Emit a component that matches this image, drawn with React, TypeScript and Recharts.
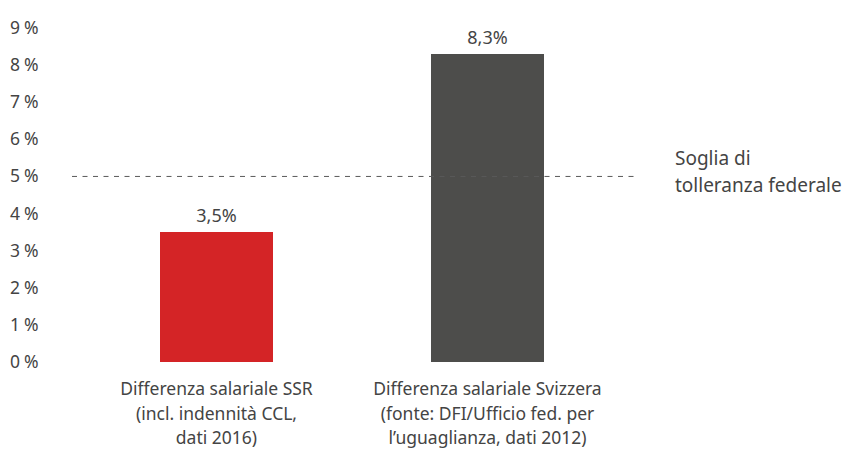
import React from "react";
import { BarChart, Bar, XAxis, YAxis, ReferenceLine, LabelList, Cell } from "recharts";

const categories = [
  ["Differenza salariale SSR", "(incl. indennità CCL,", "dati 2016)"],
  ["Differenza salariale Svizzera", "(fonte: DFI/Ufficio fed. per", "l’uguaglianza, dati 2012)"],
];
const values = [3.5, 8.3];
const valueLabels = ["3,5%", "8,3%"];
const barColors = ["#d42426", "#4d4d4b"];
const yTicks = [0, 1, 2, 3, 4, 5, 6, 7, 8, 9];
const threshold = 5;
const thresholdLabel = ["Soglia di", "tolleranza federale"];

const data = categories.map((c, i) => ({
  name: String(i),
  value: values[i],
  label: valueLabels[i],
}));

const FONT = "'Noto Sans', 'Open Sans', sans-serif";
const TEXT = "#444";

const YTick = (props: any) => {
  const { y, payload } = props;
  return (
    <text x={10} y={y} dy={6} textAnchor="start" fontFamily={FONT} fontSize={17.5} fill={TEXT}>
      {payload.value}
      <tspan dx={4}>%</tspan>
    </text>
  );
};

const XTick = (props: any) => {
  const { x, y, payload } = props;
  const lines = categories[Number(payload.value)];
  return (
    <text x={x} y={y} textAnchor="middle" fontFamily={FONT} fontSize={17.5} fill={TEXT}>
      {lines.map((l, i) => (
        <tspan key={i} x={x} dy={i === 0 ? 25 : 24.5}>
          {l}
        </tspan>
      ))}
    </text>
  );
};

const ThresholdLabel = (props: any) => {
  const { viewBox } = props;
  const x = viewBox.x + viewBox.width + 37;
  const y = viewBox.y;
  return (
    <text x={x} y={y} fontFamily={FONT} fontSize={19} fill={TEXT} textAnchor="start">
      <tspan x={x} dy={-11}>{thresholdLabel[0]}</tspan>
      <tspan x={x} dy={27}>{thresholdLabel[1]}</tspan>
    </text>
  );
};

export default function App() {
  return (
    <div style={{ position: "absolute", left: 0, top: 0, background: "#fff" }}>
      <BarChart
        width={850}
        height={452}
        data={data}
        margin={{ top: 28, right: 212, bottom: 0, left: 0 }}
        barCategoryGap={79}
      >
        <YAxis
          type="number"
          domain={[0, 9]}
          ticks={yTicks}
          interval={0}
          width={72}
          axisLine={false}
          tickLine={false}
          tick={<YTick />}
        />
        <XAxis
          dataKey="name"
          height={90}
          axisLine={false}
          tickLine={false}
          interval={0}
          padding={{ left: 9, right: 15 }}
          tick={<XTick />}
        />
        <ReferenceLine
          y={threshold}
          stroke="#5a5a5a"
          strokeWidth={1}
          strokeDasharray="5 5.5"
          label={<ThresholdLabel />}
        />
        <Bar dataKey="value" isAnimationActive={false}>
          {data.map((d, i) => (
            <Cell key={i} fill={barColors[i]} />
          ))}
          <LabelList
            dataKey="label"
            position="top"
            offset={10}
            fontFamily={FONT}
            fontSize={18}
            fill={TEXT}
          />
        </Bar>
      </BarChart>
    </div>
  );
}
